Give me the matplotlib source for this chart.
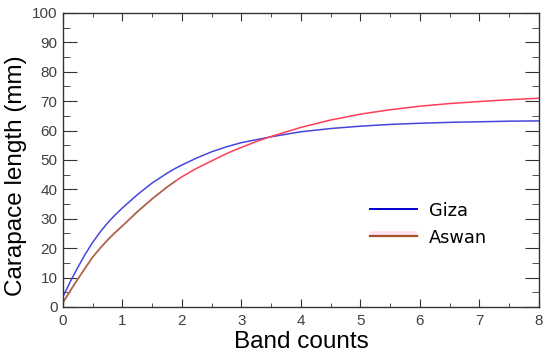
import matplotlib
matplotlib.use("Agg")
import matplotlib.pyplot as plt
from matplotlib.patches import Rectangle
from matplotlib.lines import Line2D
from matplotlib.legend_handler import HandlerPatch

# values
band = [0, 0.125, 0.25, 0.375, 0.5, 0.625, 0.75, 0.875, 1, 1.25, 1.5, 1.75, 1.875,
        2, 2.25, 2.5, 2.75, 3, 3.25, 3.5, 4, 4.5, 5, 5.5, 6, 6.5, 7, 7.5, 8]
giza = [3.5, 8.7, 13.5, 18.0, 22.0, 25.5, 28.6, 31.3, 33.7, 38.2, 42.2, 45.5, 47.0,
        48.3, 50.7, 52.8, 54.5, 55.9, 56.9, 57.9, 59.6, 60.7, 61.5, 62.1, 62.5, 62.8, 63.0, 63.2, 63.3]
aswan = [1.5, 5.6, 9.5, 13.3, 17.0, 20.0, 22.8, 25.3, 27.6, 32.4, 36.8, 40.8, 42.6,
         44.3, 47.2, 49.7, 52.2, 54.3, 56.3, 58.0, 61.1, 63.6, 65.6, 67.1, 68.3, 69.2, 69.9, 70.5, 71.0]
n_brown = 13  # first points of the Aswan curve drawn brown

fig = plt.figure(figsize=(5.5, 3.58), dpi=100)
ax = fig.add_axes([0.1145, 0.1425, 0.8655, 0.8212])

ax.plot(band, giza, color="#4646dc", lw=1.1)
ax.plot(band, aswan, color="#ff3c5a", lw=1.1)
ax.plot(band[:n_brown], aswan[:n_brown], color="#a07050", lw=1.1)

ax.set_xlim(0, 8)
ax.set_ylim(0, 100)
ax.set_xticks(range(0, 9))
ax.set_yticks(range(0, 101, 10))
ax.set_xticks([i + 0.5 for i in range(8)], minor=True)
ax.set_yticks([i + 5 for i in range(0, 100, 10)], minor=True)

ax.tick_params(axis="both", which="both", direction="in", top=True, right=True,
               colors="#333333", labelcolor="#404040", labelsize=11)
ax.tick_params(axis="y", which="major", length=10, pad=4)
ax.tick_params(axis="y", which="minor", length=5)
ax.tick_params(axis="x", which="major", length=6, pad=5)
ax.tick_params(axis="x", which="minor", length=3)
for s in ax.spines.values():
    s.set_color("#333333")
    s.set_linewidth(1.0)
for lab in ax.get_xticklabels() + ax.get_yticklabels():
    lab.set_family("Liberation Sans")

ax.set_xlabel("Band counts", fontsize=17.5, family="Liberation Sans", labelpad=2)
ax.set_ylabel("Carapace length (mm)", fontsize=17.5, family="Liberation Sans")
ax.yaxis.set_label_coords(-0.076, 0.446)


def upper_band(legend, orig_handle, xdescent, ydescent, width, height, fontsize):
    return Rectangle((-xdescent, -ydescent + height * 0.5), width, height * 0.45)


# legend drawn like the original: pink band above the Aswan line
h_giza = Line2D([], [], color="#0000cc", lw=1.4)
band_patch = Rectangle((0, 0), 1, 1, facecolor="#ffe4f6", edgecolor="none")
h_aswan = (band_patch, Line2D([], [], color="#a0522d", lw=1.6))
ax.legend([h_giza, h_aswan], ["Giza", "Aswan"], loc="center left",
          bbox_to_anchor=(0.645, 0.282), frameon=False, borderpad=0,
          borderaxespad=0, handlelength=2.65, handletextpad=0.65,
          labelspacing=0.5, handler_map={Rectangle: HandlerPatch(patch_func=upper_band)},
          prop={"family": "DejaVu Sans", "size": 12.8})

fig.savefig("out.png", dpi=100)
